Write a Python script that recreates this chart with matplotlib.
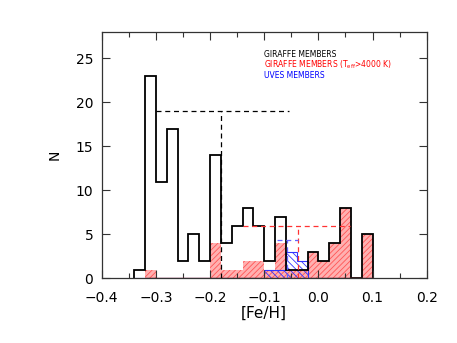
import matplotlib
matplotlib.use('Agg')
import matplotlib.pyplot as plt
import numpy as np

plt.rcParams['hatch.linewidth'] = 0.6

# bin edges in [Fe/H], width 0.02
edges = np.round(np.arange(-0.34, 0.1001, 0.02), 3)

# GIRAFFE members (all)
n_all = [1, 23, 11, 17, 2, 5, 2, 14, 4, 6, 8, 6, 2, 7, 1, 1, 3, 2, 4, 8, 0, 5]
# GIRAFFE members with Teff > 4000 K
n_warm = [0, 1, 0, 0, 0, 0, 0, 4, 1, 1, 2, 2, 1, 4, 1, 1, 3, 2, 4, 8, 0, 5]
# UVES members
n_uves = [0, 0, 0, 0, 0, 0, 0, 0, 0, 0, 0, 0, 1, 1, 3, 2, 0, 0, 0, 0, 0, 0]

# mean and spread markers (mean, low, high, height)
mark_all = [-0.18, -0.30, -0.055, 19]
mark_warm = [-0.037, -0.139, 0.058, 6]
mark_uves = [-0.058, -0.076, -0.037, 4.4]

fig = plt.figure(figsize=(4.57, 3.43), dpi=100)
ax = fig.add_axes([0.2225, 0.1886, 0.7112, 0.7181])

ax.stairs(n_warm, edges, fill=True, facecolor='#ffb0b0', edgecolor='#ff5555',
          hatch='//////', linewidth=0)
ax.hlines(0, edges[1], edges[-1], color='#b03030', lw=1.0)
ax.stairs(n_uves, edges, fill=True, facecolor='none', edgecolor='#3333ff',
          hatch='\\\\\\\\\\', linewidth=0.8)
ax.stairs(n_all, edges, color='black', linewidth=1.3)

for m, c in [(mark_all, 'black'), (mark_warm, '#ff3333'), (mark_uves, '#6666ff')]:
    ax.plot([m[1], m[2]], [m[3], m[3]], ls=(0, (4, 3)), color=c, lw=0.9)
    ax.plot([m[0], m[0]], [0, m[3]], ls=(0, (4, 3)), color=c, lw=0.9)

ax.set_xlim(-0.4, 0.2)
ax.set_ylim(0, 28)
ax.set_xticks(np.arange(-0.4, 0.201, 0.1))
ax.set_xticks(np.arange(-0.4, 0.201, 0.05), minor=True)
ax.set_xticklabels(['\u22120.4', '\u22120.3', '\u22120.2', '\u22120.1', '0.0', '0.1', '0.2'])
ax.set_yticks(np.arange(0, 26, 5))
ax.tick_params(which='both', direction='in', top=True, right=True, labelsize=10,
               color='#333333', width=0.8)
ax.tick_params(which='major', length=6)
ax.tick_params(which='minor', length=3.5)
ax.tick_params(axis='x', pad=9)
ax.tick_params(axis='y', pad=6)
for s in ax.spines.values():
    s.set_linewidth(0.9)
    s.set_color('#333333')

ax.set_xlabel('[Fe/H]', fontsize=11, labelpad=1)
ax.set_ylabel('N', fontsize=10, labelpad=10)

ax.text(0.5, 0.897, 'GIRAFFE MEMBERS', transform=ax.transAxes, fontsize=5.5, color='black')
ax.text(0.5, 0.855, 'GIRAFFE MEMBERS (T$_{\\rm eff}$>4000 K)', transform=ax.transAxes,
        fontsize=5.5, color='red')
ax.text(0.5, 0.813, 'UVES MEMBERS', transform=ax.transAxes, fontsize=5.5, color='blue')

fig.savefig('out.png', dpi=100)
